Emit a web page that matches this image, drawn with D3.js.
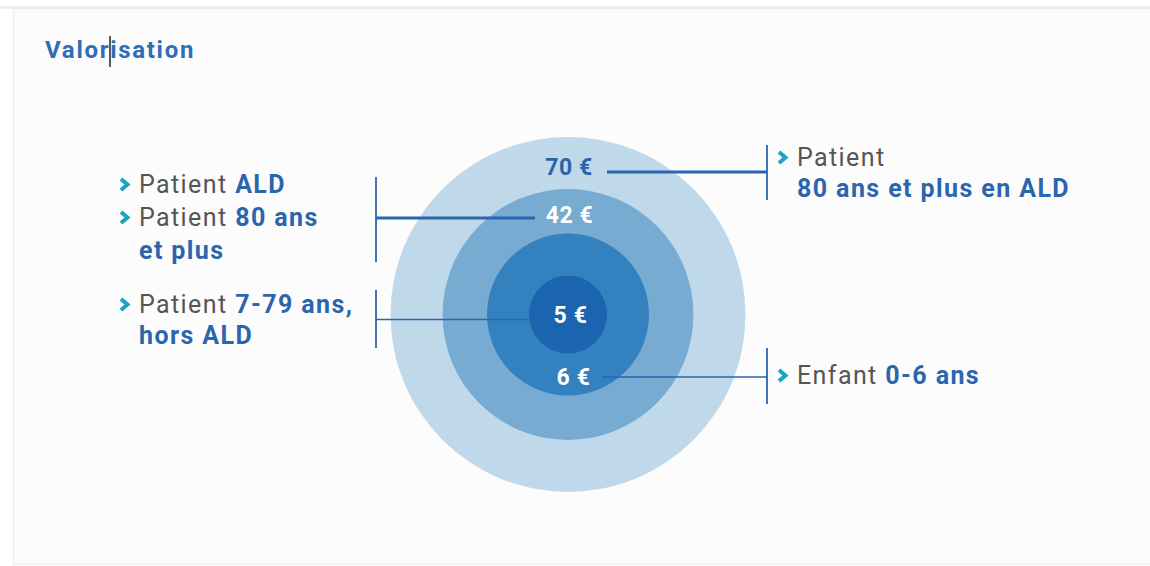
<!DOCTYPE html>
<html><head><meta charset="utf-8">
<script src="https://cdn.jsdelivr.net/npm/d3@7"></script>
<style>
html,body{margin:0;padding:0;background:#fff;}
svg{display:block;font-family:Roboto,"Noto Sans",sans-serif;}
</style></head>
<body><svg id="c" width="1150" height="566"></svg>
<script>
// ---- data ----
const title = "Valorisation";
const ringNames = ["80+ ALD", "ALD / 80+", "0-6", "7-79 hors ALD"]; // outer -> inner
const ringValues = [70, 42, 6, 5];
const valueLabels = ["70 €", "42 €", "6 €", "5 €"];
const ringColors = ["#bfd9ea", "#78abd2", "#3481bf", "#1b64b0"];
const valueColors = ["#2b63aa", "#ffffff", "#ffffff", "#ffffff"];
// callout texts: lines of [text, bold] segments, each starting with a chevron flag
const calloutLines = [
  [ {chev:true, segs:[["Patient ",false]]}, {chev:false, segs:[["80 ans et plus en ALD",true]]} ],
  [ {chev:true, segs:[["Patient ",false],["ALD",true]]}, {chev:true, segs:[["Patient ",false],["80 ans",true]]}, {chev:false, segs:[["et plus",true]]} ],
  [ {chev:true, segs:[["Enfant ",false],["0-6 ans",true]]} ],
  [ {chev:true, segs:[["Patient ",false],["7-79 ans,",true]]}, {chev:false, segs:[["hors ALD",true]]} ]
];

// ---- layout ----
const W = 1150, H = 566;
const cx = 568, cy = 314.5;
const svg = d3.select("#c");

// panel
svg.append("rect").attr("x",0).attr("y",0).attr("width",W).attr("height",H).attr("fill","#ffffff");
svg.append("rect").attr("x",0).attr("y",6).attr("width",W).attr("height",3).attr("fill","#efefef");
svg.append("rect").attr("x",13.5).attr("y",8.5).attr("width",W).attr("height",556).attr("fill","#fcfcfc").attr("stroke","#eeeeee").attr("stroke-width",1.5);

// title
svg.append("text").attr("x",45).attr("y",58).attr("fill","#2f6db6")
  .attr("font-size",24).attr("letter-spacing",1.7).attr("font-weight",700).text(title);
// caret artifact
svg.append("line").attr("x1",110).attr("x2",110).attr("y1",36).attr("y2",67).attr("stroke","#222").attr("stroke-width",1.5);

// radius scale
const rScale = d3.scaleOrdinal().domain(ringNames).range([177.5, 125.5, 81, 39]);

svg.append("g").selectAll("circle").data(ringNames).join("circle")
  .attr("cx",cx).attr("cy",cy).attr("r",d=>rScale(d))
  .attr("fill",(d,i)=>ringColors[i]);

// value labels position inside rings
const labelPos = [
  {y: cy - (rScale(ringNames[0])+rScale(ringNames[1]))/2 + 4, dx:1},
  {y: cy - (rScale(ringNames[1])+rScale(ringNames[2]))/2 + 3, dx:1.5},
  {y: cy + (rScale(ringNames[2])+rScale(ringNames[3]))/2 + 2, dx:5.5},
  {y: cy, dx:2.5}
];
svg.append("g").selectAll("text").data(valueLabels).join("text")
  .attr("x",(d,i)=>cx+labelPos[i].dx).attr("y",(d,i)=>labelPos[i].y)
  .attr("dy","0.36em").attr("text-anchor","middle")
  .attr("font-size",23).attr("letter-spacing",0.6).attr("font-weight",700)
  .attr("fill",(d,i)=>valueColors[i]).text(d=>d);

// leader lines
const leaders = [
  {y:172, x1:607, x2:767, w:3, b1:145, b2:200},
  {y:218, x1:376, x2:535, w:3, b1:177, b2:262},
  {y:377, x1:602, x2:767, w:1.6, b1:348, b2:404},
  {y:319.5, x1:376, x2:529, w:1.6, b1:290, b2:348}
];
const lc = "#2a66b0";
const lg = svg.append("g");
leaders.forEach(l=>{
  lg.append("line").attr("x1",l.x1).attr("x2",l.x2).attr("y1",l.y).attr("y2",l.y).attr("stroke",lc).attr("stroke-width",l.w);
  const bx = l.x1 < cx ? l.x1 : l.x2;
  lg.append("line").attr("x1",bx).attr("x2",bx).attr("y1",l.b1).attr("y2",l.b2).attr("stroke",lc).attr("stroke-width",1.8);
});

// callout text blocks
const blocks = [
  {x:797, y:166, lh:31},
  {x:139, y:193, lh:33},
  {x:797, y:384, lh:31},
  {x:139, y:313, lh:31}
];
const tg = svg.append("g").attr("font-size",25).attr("letter-spacing",1.4);
calloutLines.forEach((lines,bi)=>{
  const b = blocks[bi];
  lines.forEach((ln,li)=>{
    const y = b.y + li*b.lh;
    if (ln.chev) {
      tg.append("path").attr("d",`M${b.x-18},${y-14} L${b.x-11.5},${y-8.5} L${b.x-18},${y-3}`)
        .attr("fill","none").attr("stroke","#1ba4c4").attr("stroke-width",4).attr("stroke-linejoin","miter");
    }
    const t = tg.append("text").attr("x",b.x).attr("y",y);
    ln.segs.forEach(s=>{
      t.append("tspan").attr("font-weight",s[1]?700:400).attr("fill",s[1]?"#2b65ad":"#555555").text(s[0]);
    });
  });
});
</script></body></html>
